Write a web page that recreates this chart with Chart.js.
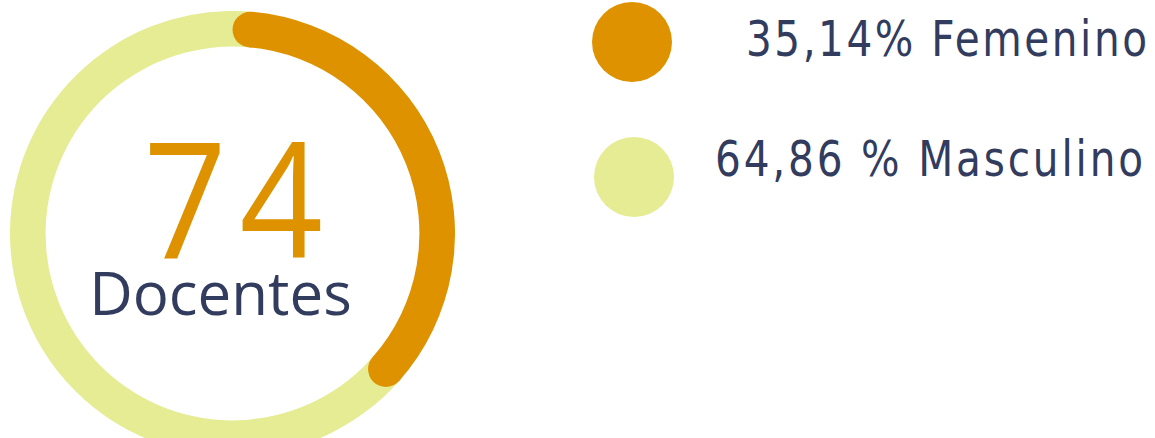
<!DOCTYPE html>
<html>
<head>
<meta charset="utf-8">
<script src="https://cdn.jsdelivr.net/npm/chart.js@4"></script>
<style>
  html, body { margin: 0; width: 1155px; height: 438px; overflow: hidden; background: #fff; }
  body { position: relative; font-family: 'Open Sans', sans-serif; color: #323c5e; }
  #ringWrap { position: absolute; left: 10px; top: 11px; width: 445px; height: 445px; }
  .center { position: absolute; left: 0; width: 465px; text-align: center; line-height: 1; white-space: nowrap; }
  #total { top: 114px; left: 7px; font-size: 162px; letter-spacing: 14px; color: #de9200; transform: scaleX(0.9); }
  #caption { top: 262px; font-size: 60px; left: -12px; }
  .dot { position: absolute; width: 80px; height: 80px; border-radius: 50%; }
  .leg { position: absolute; font-family: 'DejaVu Sans Condensed', 'DejaVu Sans', sans-serif; font-size: 49px; line-height: 1; white-space: nowrap; transform-origin: 0 0; }
</style>
</head>
<body>
<div id="ringWrap"><canvas id="ring"></canvas></div>
<div id="total" class="center"></div>
<div id="caption" class="center">Docentes</div>
<div id="legend"></div>
<script>
const LABELS      = ['Femenino', 'Masculino'];
const COUNTS      = [26, 48];
const LEG_TEXT    = ['35,14% Femenino', '64,86 % Masculino'];
const COLORS      = ['#de9200', '#e5ec93'];

document.getElementById('total').textContent = COUNTS.reduce((a, b) => a + b, 0);

// legend placement: dot box, text left / top / right edge
const LEG_POS = [
  { dx: 592, dy: 2,   tx: 746, ty: 15,  tr: 1147 },
  { dx: 594, dy: 137, tx: 715, ty: 135, tr: 1143 },
];
const SQUEEZE = 0.92;
const legend = document.getElementById('legend');
LEG_TEXT.forEach((t, i) => {
  const p = LEG_POS[i];
  const dot = document.createElement('div');
  dot.className = 'dot';
  dot.style.cssText = `left:${p.dx}px;top:${p.dy}px;background:${COLORS[i]}`;
  const txt = document.createElement('div');
  txt.className = 'leg';
  txt.style.cssText = `left:${p.tx}px;top:${p.ty}px`;
  txt.textContent = t;
  legend.appendChild(dot);
  legend.appendChild(txt);
  // narrow the glyphs and spread the letters so the line ends where it does
  const w0 = txt.getBoundingClientRect().width;
  const ls = ((p.tr - p.tx) / SQUEEZE - w0) / (t.length - 1);
  txt.style.letterSpacing = ls + 'px';
  txt.style.transform = `scaleX(${SQUEEZE})`;
});

// round ends on the first arc, taken from the arc element geometry
const roundCaps = {
  id: 'roundCaps',
  afterDatasetsDraw(chart) {
    const arc = chart.getDatasetMeta(0).data[0];
    const { x, y, startAngle, endAngle, innerRadius, outerRadius } =
      arc.getProps(['x', 'y', 'startAngle', 'endAngle', 'innerRadius', 'outerRadius'], true);
    const r = (innerRadius + outerRadius) / 2;
    const w = (outerRadius - innerRadius) / 2;
    const ctx = chart.ctx;
    ctx.save();
    ctx.fillStyle = COLORS[0];
    [startAngle, endAngle].forEach(a => {
      ctx.beginPath();
      ctx.arc(x + r * Math.cos(a), y + r * Math.sin(a), w, 0, Math.PI * 2);
      ctx.fill();
    });
    ctx.restore();
  }
};

new Chart(document.getElementById('ring'), {
  type: 'doughnut',
  data: {
    labels: LABELS,
    datasets: [{ data: COUNTS, backgroundColor: COLORS, borderWidth: 0 }],
  },
  options: {
    responsive: true,
    maintainAspectRatio: false,
    animation: false,
    events: [],
    cutout: '84%',
    rotation: 5,
    layout: { padding: 0 },
    plugins: { legend: { display: false }, tooltip: { enabled: false } },
  },
  plugins: [roundCaps],
});
</script>
</body>
</html>
